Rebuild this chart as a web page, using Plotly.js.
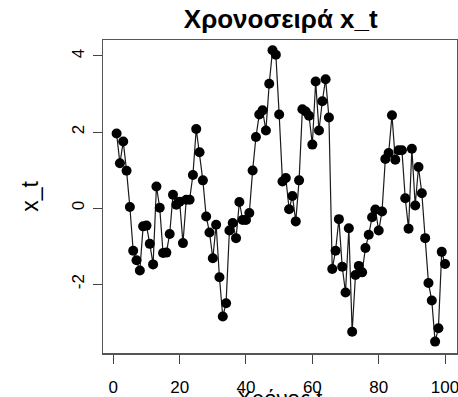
<!DOCTYPE html>
<html>
<head>
<meta charset="utf-8">
<script src="https://cdn.plot.ly/plotly-3.0.1.min.js"></script>
<style>html,body{margin:0;padding:0;background:#fff;}#plot{width:458px;height:397px;}</style>
</head>
<body>
<div id="plot"></div>
<script>
const chartTitle = "Χρονοσειρά x_t";
const xAxisTitle = "Χρόνος t";
const yAxisTitle = "x_t";
const timeIndex = Array.from({length: 100}, (_, i) => i + 1);
const seriesValues = [
  1.96, 1.18, 1.75, 0.98, 0.03, -1.12, -1.37, -1.64, -0.48, -0.46,
  -0.94, -1.48, 0.57, 0.01, -1.18, -1.17, -0.68, 0.35, 0.09, 0.17,
  -0.92, 0.22, 0.22, 0.87, 2.08, 1.47, 0.73, -0.22, -0.64, -1.32,
  -0.44, -1.82, -2.85, -2.50, -0.59, -0.39, -0.79, 0.16, -0.31, -0.31,
  -0.13, 0.99, 1.87, 2.46, 2.57, 2.04, 3.27, 4.15, 4.03, 2.46,
  0.70, 0.79, -0.03, 0.32, -0.35, 0.73, 2.60, 2.54, 2.43, 1.67,
  3.33, 2.04, 2.81, 3.39, 2.38, -1.60, -1.12, -0.29, -1.54, -2.22,
  -0.53, -3.25, -1.76, -1.52, -1.69, -1.05, -0.70, -0.24, -0.04, -0.59,
  -0.09, 1.29, 1.45, 2.44, 1.27, 1.52, 1.52, 0.26, -0.54, 1.56,
  0.07, 1.08, 0.39, -0.79, -1.97, -2.43, -3.51, -3.16, -1.15, -1.47
];
const xTicks = [0, 20, 40, 60, 80, 100];
const yTicks = [-2, 0, 2, 4];

const trace = {
  x: timeIndex,
  y: seriesValues,
  type: 'scatter',
  mode: 'lines+markers',
  line: {color: '#1a1a1a', width: 1.2},
  marker: {color: '#000', size: 10},
  showlegend: false
};

const layout = {
  width: 458, height: 397,
  margin: {l: 103, r: 1, t: 40, b: 44},
  paper_bgcolor: '#fff', plot_bgcolor: '#fff',
  font: {family: 'Liberation Sans, Arial, sans-serif', color: '#000'},
  title: {
    text: '<b>' + chartTitle + '</b>',
    font: {size: 26, family: 'Liberation Sans, Arial, sans-serif', color: '#000'},
    x: 0.613, xanchor: 'center', xref: 'container',
    y: 0.952, yanchor: 'middle', yref: 'container'
  },
  xaxis: {
    range: [-3.1, 103.6],
    tickmode: 'array', tickvals: xTicks, ticktext: xTicks.map(String),
    ticks: 'outside', ticklen: 9, tickwidth: 1, tickcolor: '#444',
    ticklabelstandoff: 9, ticklabeloverflow: 'allow',
    showgrid: false, zeroline: false,
    showline: true, mirror: true, linecolor: '#555', linewidth: 1.5,
    tickfont: {size: 17, color: '#000'},
    automargin: false, fixedrange: true
  },
  yaxis: {
    range: [-3.81, 4.42],
    tickmode: 'array', tickvals: yTicks, ticktext: yTicks.map(String),
    ticks: 'outside', ticklen: 9, tickwidth: 1, tickcolor: '#444',
    tickangle: -90, ticklabelstandoff: 2,
    showgrid: false, zeroline: false,
    showline: true, mirror: true, linecolor: '#555', linewidth: 1.5,
    tickfont: {size: 17, color: '#000'},
    title: {text: yAxisTitle, font: {size: 23, color: '#000'}, standoff: 23},
    automargin: false, fixedrange: true
  },
  annotations: [{
    text: xAxisTitle, showarrow: false,
    xref: 'paper', yref: 'paper', x: 0.5, y: -0.1,
    xanchor: 'center', yanchor: 'top',
    font: {size: 22, color: '#000'}
  }]
};

Plotly.newPlot('plot', [trace], layout, {displayModeBar: false, staticPlot: true});
</script>
</body>
</html>
